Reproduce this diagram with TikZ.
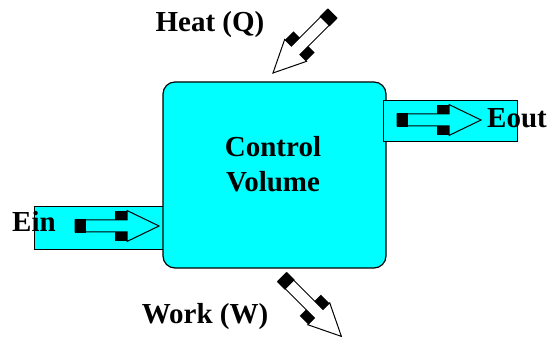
\documentclass[tikz,border=0pt]{standalone}
\usepackage{fontspec}
\setmainfont{Liberation Serif}
\definecolor{VolClr}{rgb}{0,1,1}
\tikzset{
  cvbox/.style={draw=black,line width=1.2pt,fill=VolClr,rounded corners=12pt,inner sep=0pt},
  pipe/.style={draw=black,line width=1pt,fill=VolClr,inner sep=0pt},
  lbl/.style={font=\fontsize{29}{35}\selectfont\bfseries,inner sep=0pt,align=center},
  flowarrow/.pic={
    \draw[line width=1pt,line join=miter] (0,6) -- (52,6) -- (52,15.5) -- (84,0)
      -- (52,-15.5) -- (52,-6) -- (0,-6) -- cycle;
    \fill (0,-7) rectangle (11,7);
    \fill (40,6) rectangle (52,15);
    \fill (40,-6) rectangle (52,-15);
  }
}

\begin{document}
\begin{tikzpicture}[x=1pt,y=-1pt]
\useasboundingbox (0,0) rectangle (550,342);

\node[pipe,minimum width=129pt,minimum height=43pt] (ein) at (98.5,228.5) {};
\node[cvbox,minimum width=223pt,minimum height=186pt] (cv) at (274.5,175) {};
\node[pipe,minimum width=134pt,minimum height=41pt] (eout) at (450,121.5) {};

\pic at (75,226) {flowarrow};
\pic at (397,120) {flowarrow};
\pic[rotate=-135] at (332.4,13.6) {flowarrow};
\pic[rotate=-45] at (282,277) {flowarrow};

\node[lbl,anchor=base] (cvlabel) at (273,192) {Control\\Volume};
\node[lbl,anchor=base west] (einlabel) at (12,232) {Ein};
\node[lbl,anchor=base west] (eoutlabel) at (487,128) {Eout};
\node[lbl,anchor=base] (heat) at (210,32) {Heat (Q)};
\node[lbl,anchor=base] (work) at (205,324) {Work (W)};

\end{tikzpicture}
\end{document}
